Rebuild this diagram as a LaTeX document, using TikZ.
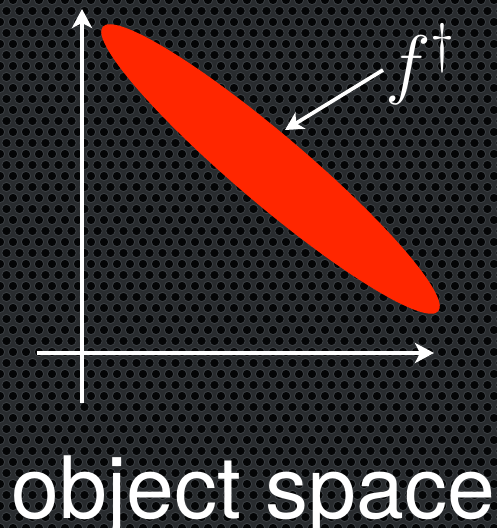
\RequirePackage{fix-cm}
\documentclass[tikz,border=0pt]{standalone}
\usepackage{fontspec}
\setsansfont{TeX Gyre Heros}
\usepackage{xcolor}
\definecolor{metal}{RGB}{40, 43, 46}
\definecolor{holeblack}{RGB}{4, 5, 6}
\definecolor{holerim}{RGB}{58, 62, 66}
\definecolor{blobred}{RGB}{255, 38, 0}
\usepackage{tikz}
\usetikzlibrary{arrows.meta, shapes.geometric, positioning}
\tikzset{
  axisline/.style={draw=white, line width=2.1pt,
    -{Stealth[length=3.8mm, width=4mm, inset=1mm]}},
  pointer/.style={draw=white, line width=2.1pt,
    -{Stealth[length=3.6mm, width=3.8mm, inset=1mm]}},
  blob/.style={ellipse, fill=blobred, inner sep=0pt,
    minimum width=8.8cm, minimum height=1.4cm},
  hole/.style={fill=holeblack, draw=holerim, line width=0.5pt},
  caption/.style={font=\sffamily\fontsize{49}{55}\selectfont,
    text=white, inner sep=0pt},
  daglabel/.style={font=\fontsize{44}{50}\selectfont,
    text=white, inner sep=0pt}
}

\begin{document}
\begin{tikzpicture}[x=0.02cm, y=0.02cm]

  %% Perforated plate
  \clip (0,0) rectangle (497,528);
  \fill[metal] (0,0) rectangle (497,528);
  \foreach \r in {0,...,48}
    \foreach \c in {-1,...,39}
      \filldraw[hole] ({\c*13+mod(\r,2)*6.5}, {\r*11}) circle (4.7);

  %% Axes
  \coordinate (ybot) at (82,125);
  \coordinate (ytop) at (82,519);
  \coordinate (xleft) at (37,175);
  \coordinate (xright) at (434,175);
  \draw[axisline] (ybot) -- (ytop);
  \draw[axisline] (xleft) -- (xright);

  %% Red region
  \node[blob, rotate=-40.3] (region) at (270.5,359) {};

  %% Label and pointer
  \node[daglabel, anchor=base west] (fdag) at (385,438) {$f^{\dagger}$};
  \coordinate (ftail) at (383,458);
  \coordinate (ftip) at (285,398);
  \draw[pointer] (ftail) -- (ftip);

  %% Caption
  \node[caption, anchor=base] (title) at (253.5,10) {object space};

\end{tikzpicture}
\end{document}
